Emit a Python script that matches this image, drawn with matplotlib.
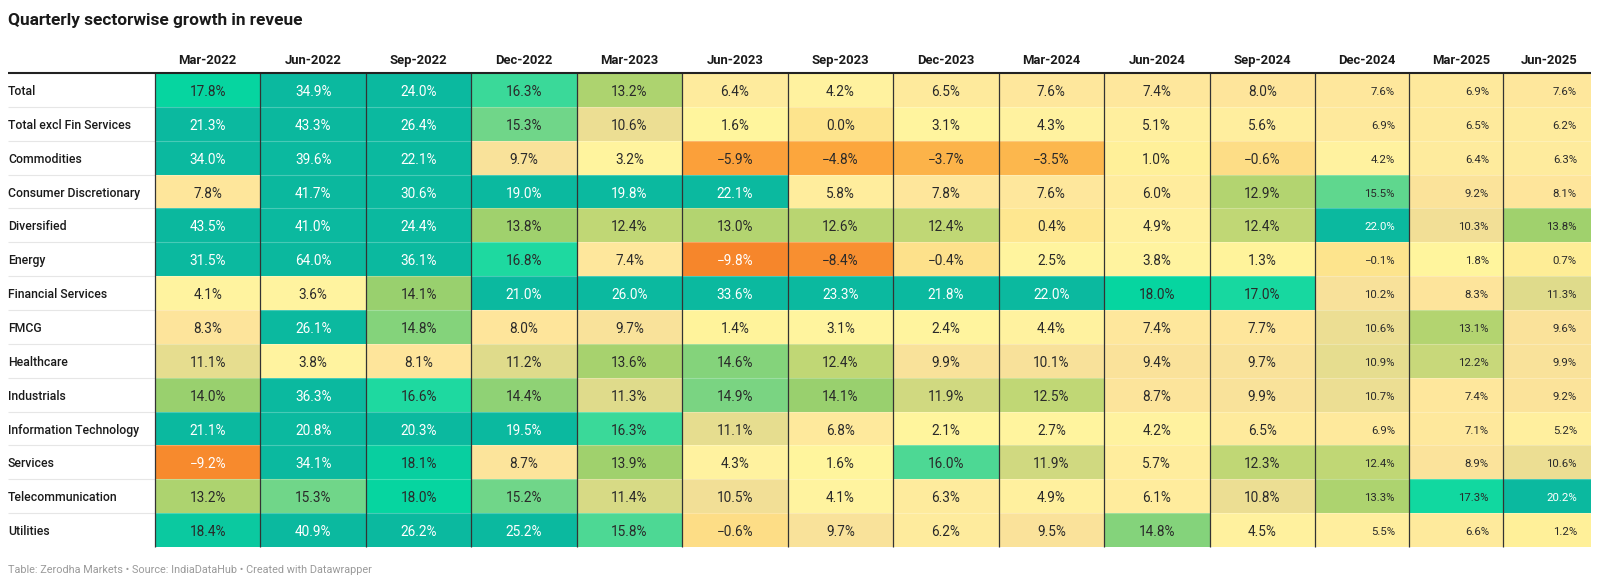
import numpy as np
import matplotlib
matplotlib.use('Agg')
import matplotlib.pyplot as plt
from matplotlib.colors import LinearSegmentedColormap, Normalize

quarters = ['Mar-2022', 'Jun-2022', 'Sep-2022', 'Dec-2022', 'Mar-2023', 'Jun-2023', 'Sep-2023',
            'Dec-2023', 'Mar-2024', 'Jun-2024', 'Sep-2024', 'Dec-2024', 'Mar-2025', 'Jun-2025']

sectors = ['Total', 'Total excl Fin Services', 'Commodities', 'Consumer Discretionary', 'Diversified',
           'Energy', 'Financial Services', 'FMCG', 'Healthcare', 'Industrials',
           'Information Technology', 'Services', 'Telecommunication', 'Utilities']

total = [17.8, 34.9, 24.0, 16.3, 13.2, 6.4, 4.2, 6.5, 7.6, 7.4, 8.0, 7.6, 6.9, 7.6]
total_excl_fin = [21.3, 43.3, 26.4, 15.3, 10.6, 1.6, 0.0, 3.1, 4.3, 5.1, 5.6, 6.9, 6.5, 6.2]
commodities = [34.0, 39.6, 22.1, 9.7, 3.2, -5.9, -4.8, -3.7, -3.5, 1.0, -0.6, 4.2, 6.4, 6.3]
consumer_disc = [7.8, 41.7, 30.6, 19.0, 19.8, 22.1, 5.8, 7.8, 7.6, 6.0, 12.9, 15.5, 9.2, 8.1]
diversified = [43.5, 41.0, 24.4, 13.8, 12.4, 13.0, 12.6, 12.4, 0.4, 4.9, 12.4, 22.0, 10.3, 13.8]
energy = [31.5, 64.0, 36.1, 16.8, 7.4, -9.8, -8.4, -0.4, 2.5, 3.8, 1.3, -0.1, 1.8, 0.7]
financial = [4.1, 3.6, 14.1, 21.0, 26.0, 33.6, 23.3, 21.8, 22.0, 18.0, 17.0, 10.2, 8.3, 11.3]
fmcg = [8.3, 26.1, 14.8, 8.0, 9.7, 1.4, 3.1, 2.4, 4.4, 7.4, 7.7, 10.6, 13.1, 9.6]
healthcare = [11.1, 3.8, 8.1, 11.2, 13.6, 14.6, 12.4, 9.9, 10.1, 9.4, 9.7, 10.9, 12.2, 9.9]
industrials = [14.0, 36.3, 16.6, 14.4, 11.3, 14.9, 14.1, 11.9, 12.5, 8.7, 9.9, 10.7, 7.4, 9.2]
info_tech = [21.1, 20.8, 20.3, 19.5, 16.3, 11.1, 6.8, 2.1, 2.7, 4.2, 6.5, 6.9, 7.1, 5.2]
services = [-9.2, 34.1, 18.1, 8.7, 13.9, 4.3, 1.6, 16.0, 11.9, 5.7, 12.3, 12.4, 8.9, 10.6]
telecom = [13.2, 15.3, 18.0, 15.2, 11.4, 10.5, 4.1, 6.3, 4.9, 6.1, 10.8, 13.3, 17.3, 20.2]
utilities = [18.4, 40.9, 26.2, 25.2, 15.8, -0.6, 9.7, 6.2, 9.5, 14.8, 4.5, 5.5, 6.6, 1.2]

values = np.array([total, total_excl_fin, commodities, consumer_disc, diversified, energy, financial,
                   fmcg, healthcare, industrials, info_tech, services, telecom, utilities])

# colour scale (value, colour) like the datawrapper gradient
vmin, vmax = -10, 64
stops = [(-10, '#f6862b'), (-5, '#fca63d'), (-3.5, '#fcb84e'), (-0.5, '#fde08a'), (1.5, '#fff59d'),
         (4, '#fff39f'), (8, '#fee59b'), (10, '#f8e19a'), (11, '#e4dc8e'), (12.5, '#bcd672'),
         (14, '#9cd06c'), (15.3, '#6ed68a'), (16.5, '#22daa0'), (17.8, '#06d6a0'), (18.5, '#0bc8a0'),
         (19, '#0bb99f'), (64, '#0bb89e')]
cmap = LinearSegmentedColormap.from_list(
    'dw', [((v - vmin) / (vmax - vmin), c) for v, c in stops])
norm = Normalize(vmin, vmax)

plt.rcParams['font.family'] = ['Roboto', 'DejaVu Sans']

fig = plt.figure(figsize=(16, 5.83), dpi=100)
ax = fig.add_axes([0, 0, 1, 1])
ax.set_xlim(0, 1600)
ax.set_ylim(583, 0)
ax.axis('off')

# layout in pixels
left, label_x = 155, 8
col_w = [105.45] * 11 + [94, 94, 88]
col_edges = np.concatenate([[left], left + np.cumsum(col_w)])
top, row_h = 73, 33.86
row_edges = top + row_h * np.arange(len(sectors) + 1)

ax.pcolormesh(col_edges, row_edges, values, cmap=cmap, norm=norm)

# faint row separators
ax.hlines(row_edges[1:-1], label_x, left, color='#e6e6e6', lw=0.8)
ax.hlines(row_edges[1:-1], left, col_edges[-1], color='white', lw=0.8, alpha=0.25)
# dark column separators
ax.vlines(col_edges[:-1], top, row_edges[-1], color='#333333', lw=0.9)
# header rule
ax.hlines(top, label_x, col_edges[-1], color='#222222', lw=1.5)

ax.text(label_x, 24.5, 'Quarterly sectorwise growth in reveue', fontsize=12.4, fontweight='bold',
        color='#1a1a1a', va='baseline', ha='left')

for j, q in enumerate(quarters):
    if j < 11:
        ax.text((col_edges[j] + col_edges[j + 1]) / 2, 64, q, fontsize=9.4, fontweight='bold',
                color='#1a1a1a', ha='center', va='baseline')
    else:
        ax.text(col_edges[j + 1] - 13, 64, q, fontsize=9.4, fontweight='bold',
                color='#1a1a1a', ha='right', va='baseline')

for i, s in enumerate(sectors):
    yc = (row_edges[i] + row_edges[i + 1]) / 2
    ax.text(label_x, yc + 5, s, fontsize=8.8, fontweight='medium', color='#1a1a1a',
            ha='left', va='baseline')
    for j in range(len(quarters)):
        v = values[i, j]
        txt = f'{v:.1f}%'.replace('-', '\u2212')
        tc = 'white' if (v >= 18.7 or v <= -9) else '#2a2a2a'
        if j < 11:
            ax.text((col_edges[j] + col_edges[j + 1]) / 2, yc + 6, txt, fontsize=9.8, color=tc,
                    ha='center', va='baseline')
        else:
            ax.text(col_edges[j + 1] - 14, yc + 5, txt, fontsize=8.2, color=tc,
                    ha='right', va='baseline')

ax.text(label_x, 573, 'Table: Zerodha Markets \u2022 Source: IndiaDataHub \u2022 Created with Datawrapper',
        fontsize=7.8, color='#9a9a9a', ha='left', va='baseline')

fig.savefig('out.png', dpi=100)
